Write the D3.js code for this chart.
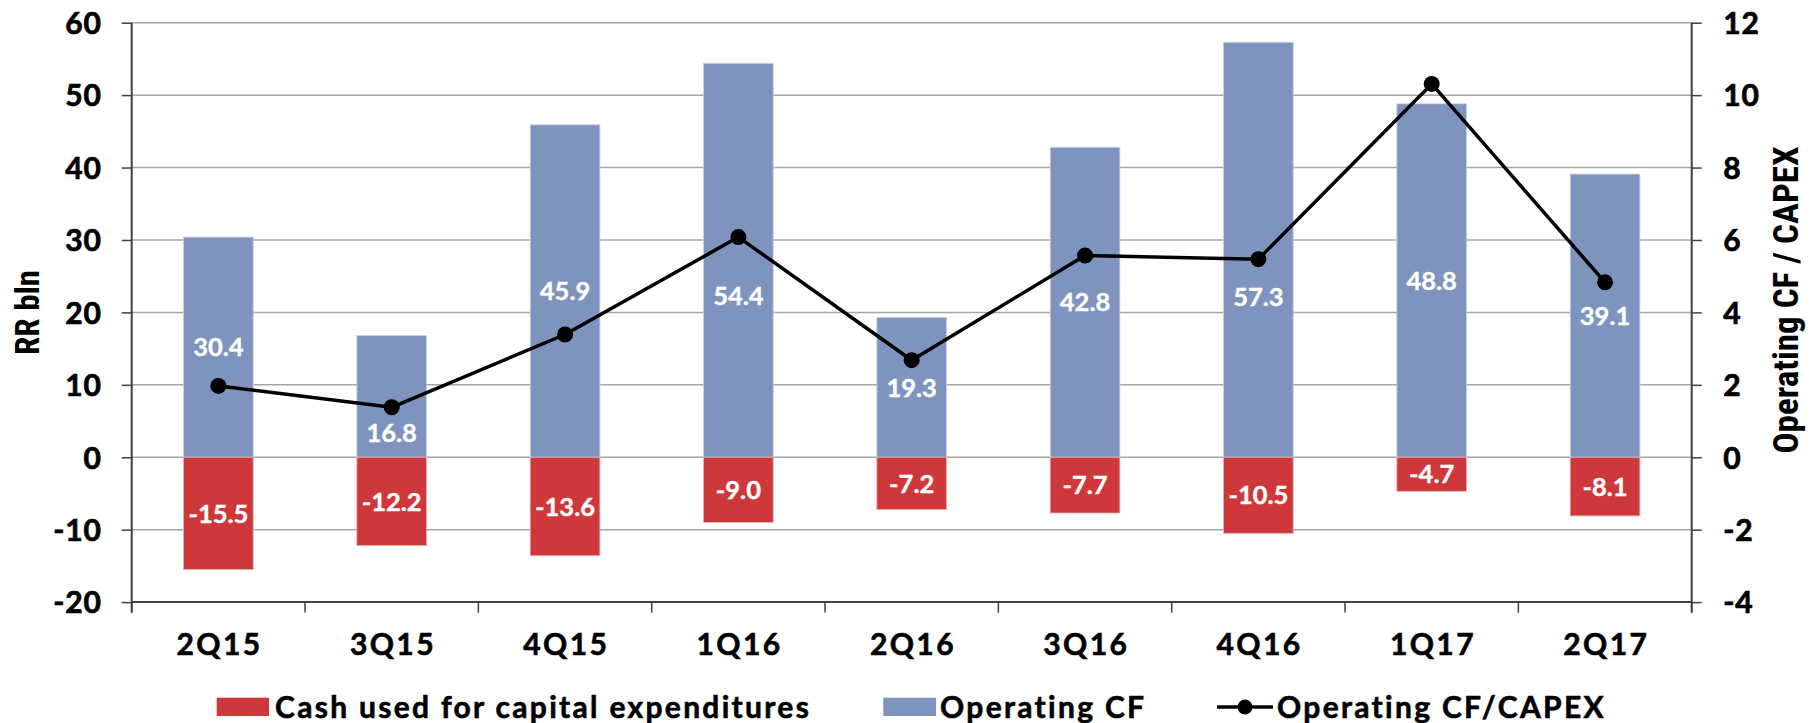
<!DOCTYPE html>
<html>
<head>
<meta charset="utf-8">
<script src="https://cdn.jsdelivr.net/npm/d3@7"></script>
<style>
  html, body { margin: 0; padding: 0; background: #ffffff; }
  svg { display: block; }
  .main { font-family: Lato, "Open Sans", "DejaVu Sans", sans-serif; font-weight: 700; }
  .narrow { font-family: "Liberation Sans Narrow", "Arial Narrow", "Roboto Condensed", Roboto, sans-serif; font-weight: 700; font-stretch: condensed; }
</style>
</head>
<body>
<svg id="chart" width="1817" height="723"></svg>
<script>
// ---- data ----
const categories = ["2Q15", "3Q15", "4Q15", "1Q16", "2Q16", "3Q16", "4Q16", "1Q17", "2Q17"];
const capex = [-15.5, -12.2, -13.6, -9.0, -7.2, -7.7, -10.5, -4.7, -8.1];
const operatingCF = [30.4, 16.8, 45.9, 54.4, 19.3, 42.8, 57.3, 48.8, 39.1];
const cfToCapex = [1.97, 1.38, 3.39, 6.08, 2.68, 5.57, 5.47, 10.31, 4.83];
// where the operating CF labels sit (in RR bln)
const opLabelAt = [15.2, 3.4, 22.95, 22.3, 9.65, 21.4, 22.2, 24.4, 19.55];
const leftTicks = [-20, -10, 0, 10, 20, 30, 40, 50, 60];
const rightTicks = [-4, -2, 0, 2, 4, 6, 8, 10, 12];
const seriesNames = ["Cash used for capital expenditures", "Operating CF", "Operating CF/CAPEX"];
const leftTitle = "RR bln";
const rightTitle = "Operating CF / CAPEX";

// ---- styles ----
const RED = "#CF383A", BLUE = "#7F93BF", GRID = "#A6A6A6", AXIS = "#404040";
const fmtInt = d => String(d);            // plain hyphen minus, as in the original
const fmt1 = d => d.toFixed(1);

const svg = d3.select("#chart");
const L = 131.7, R = 1691.7, T = 22.7, B = 602.1;

const x = d3.scaleBand().domain(categories).range([L, R]).paddingInner(0).paddingOuter(0);
const barW = x.bandwidth() * 0.402;
const yL = d3.scaleLinear().domain([-20, 60]).range([B, T]);
const yR = d3.scaleLinear().domain([-4, 12]).range([B, T]);

// gridlines
svg.append("g").selectAll("line").data(leftTicks.filter(d => d !== -20)).join("line")
  .attr("x1", L).attr("x2", R)
  .attr("y1", d => yL(d)).attr("y2", d => yL(d))
  .attr("stroke", GRID).attr("stroke-width", 1.5);

// bars
const idx = d3.range(categories.length);
svg.append("g").selectAll("rect").data(idx).join("rect")
  .attr("x", i => x(categories[i]) + (x.bandwidth() - barW) / 2)
  .attr("width", barW)
  .attr("y", i => yL(operatingCF[i]))
  .attr("height", i => yL(0) - yL(operatingCF[i]))
  .attr("fill", BLUE).attr("stroke", "#c9d2e6").attr("stroke-width", 0.8);

svg.append("g").selectAll("rect").data(idx).join("rect")
  .attr("x", i => x(categories[i]) + (x.bandwidth() - barW) / 2)
  .attr("width", barW)
  .attr("y", yL(0))
  .attr("height", i => yL(capex[i]) - yL(0))
  .attr("fill", RED).attr("stroke", "#e7b3b4").attr("stroke-width", 0.8);

// axes
const gLeft = svg.append("g").attr("class", "main").attr("transform", `translate(${L},0)`)
  .call(d3.axisLeft(yL).tickValues(leftTicks).tickSize(10).tickPadding(20).tickFormat(fmtInt));
const gRight = svg.append("g").attr("class", "main").attr("transform", `translate(${R},0)`)
  .call(d3.axisRight(yR).tickValues(rightTicks).tickSize(10).tickPadding(21.5).tickFormat(fmtInt));
[gLeft, gRight].forEach(g => {
  g.select(".domain").attr("stroke", AXIS).attr("stroke-width", 2).attr("d", `M0,${T}V${B + 10.5}`);
  g.selectAll(".tick line").attr("stroke", AXIS).attr("stroke-width", 1.5);
  g.selectAll(".tick text").attr("font-size", 30).attr("fill", "#000").attr("dy", "0.36em")
    .attr("font-family", "Lato, 'Open Sans', sans-serif").attr("font-weight", 700)
    .attr("letter-spacing", 0.8).attr("stroke", "#000").attr("stroke-width", 0.7);
});

const gBottom = svg.append("g").attr("class", "main").attr("transform", `translate(0,${B})`)
  .call(d3.axisBottom(x).tickSize(0).tickPadding(0));
gBottom.select(".domain").attr("stroke", AXIS).attr("stroke-width", 2).attr("d", `M${L},0H${R}`);
gBottom.selectAll(".tick text").attr("font-size", 30).attr("fill", "#000")
  .attr("y", 53).attr("dy", 0).attr("dx", 1.2).attr("letter-spacing", 2.4)
  .attr("stroke", "#000").attr("stroke-width", 0.6)
  .attr("font-family", "Lato, 'Open Sans', sans-serif").attr("font-weight", 700);
// category separator ticks
const bounds = categories.map(c => x(c)).concat([R]);
svg.append("g").selectAll("line").data(bounds).join("line")
  .attr("x1", d => d).attr("x2", d => d)
  .attr("y1", B).attr("y2", B + 10.5)
  .attr("stroke", AXIS).attr("stroke-width", 1.5);

// line series
const line = d3.line().x((d, i) => x(categories[i]) + x.bandwidth() / 2).y(d => yR(d));
svg.append("path").datum(cfToCapex).attr("d", line)
  .attr("fill", "none").attr("stroke", "#000").attr("stroke-width", 3.5).attr("stroke-linejoin", "round");
svg.append("g").selectAll("circle").data(cfToCapex).join("circle")
  .attr("cx", (d, i) => x(categories[i]) + x.bandwidth() / 2)
  .attr("cy", d => yR(d)).attr("r", 8).attr("fill", "#000");

// data labels
svg.append("g").attr("class", "main").attr("fill", "#fff").attr("font-size", 25.5).attr("text-anchor", "middle")
  .attr("stroke", "#fff").attr("stroke-width", 0.4)
  .selectAll("text").data(idx).join("text")
  .attr("x", i => x(categories[i]) + x.bandwidth() / 2)
  .attr("y", i => yL(opLabelAt[i])).attr("dy", "0.36em")
  .text(i => fmt1(operatingCF[i]));
svg.append("g").attr("class", "main").attr("fill", "#fff").attr("font-size", 25.5).attr("text-anchor", "middle")
  .attr("stroke", "#fff").attr("stroke-width", 0.4)
  .selectAll("text").data(idx).join("text")
  .attr("x", i => x(categories[i]) + x.bandwidth() / 2)
  .attr("y", i => yL(capex[i] / 2)).attr("dy", "0.36em")
  .text(i => fmt1(capex[i]));

// axis titles
svg.append("text").attr("class", "narrow").attr("font-size", 33).attr("text-anchor", "middle")
  .attr("transform", `translate(38.5,${(T + B) / 2}) rotate(-90)`).text(leftTitle);
svg.append("text").attr("class", "narrow").attr("font-size", 35).attr("text-anchor", "middle")
  .attr("transform", `translate(1797.5,300) rotate(-90)`).text(rightTitle);

// legend
const leg = svg.append("g").attr("class", "main").attr("font-size", 30).attr("letter-spacing", 2.3);
leg.append("rect").attr("x", 216.7).attr("y", 697.7).attr("width", 52.3).attr("height", 18.3).attr("fill", RED);
leg.append("text").attr("x", 275).attr("y", 718).attr("stroke", "#000").attr("stroke-width", 0.6).text(seriesNames[0]);
leg.append("rect").attr("x", 883.3).attr("y", 697.7).attr("width", 52.7).attr("height", 18.3).attr("fill", BLUE);
leg.append("text").attr("x", 940).attr("y", 718).attr("stroke", "#000").attr("stroke-width", 0.6).text(seriesNames[1]);
leg.append("line").attr("x1", 1217).attr("x2", 1273).attr("y1", 707).attr("y2", 707)
  .attr("stroke", "#000").attr("stroke-width", 3.5);
leg.append("circle").attr("cx", 1245).attr("cy", 707).attr("r", 7.5).attr("fill", "#000");
leg.append("text").attr("x", 1277).attr("y", 718).attr("stroke", "#000").attr("stroke-width", 0.6).text(seriesNames[2]);
</script>
</body>
</html>
